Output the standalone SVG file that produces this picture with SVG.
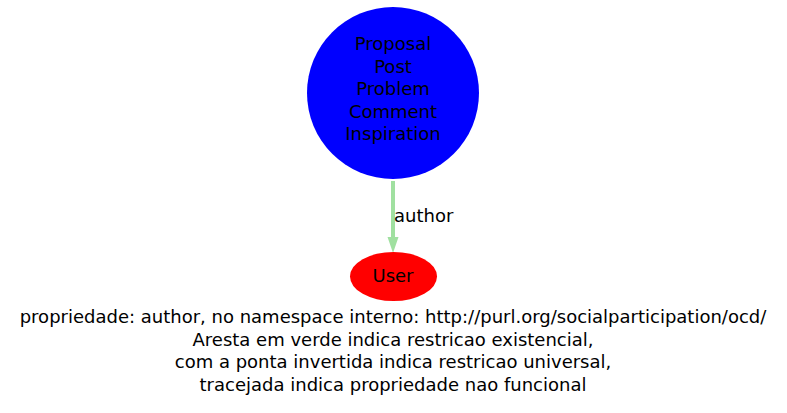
<svg xmlns="http://www.w3.org/2000/svg" width="787" height="413" viewBox="0 0 787 413">
<defs>
<style>
text{font-family:"DejaVu Sans",sans-serif;font-size:18px;fill:#000;text-anchor:middle}
.edge{stroke:#a0e0a0;stroke-width:4;fill:none}
</style>
</defs>
<rect width="787" height="413" fill="#fff"/>
<g id="connectors">
<line class="edge" x1="393" y1="181" x2="393" y2="238"/>
<path d="M387.5,237 L393,253 L398.5,237 Z" fill="#a0e0a0"/>
<text x="394" y="222" style="text-anchor:start">author</text>
</g>
<g id="node-proposal">
<circle cx="393" cy="93" r="86" fill="#0000ff"/>
<text x="393" y="50">Proposal</text>
<text x="393" y="73">Post</text>
<text x="393" y="95">Problem</text>
<text x="393" y="118">Comment</text>
<text x="393" y="140">Inspiration</text>
</g>
<g id="node-user">
<ellipse cx="393.5" cy="276.5" rx="43.5" ry="24.5" fill="#ff0000"/>
<text x="393" y="282">User</text>
</g>
<g id="caption">
<text x="393" y="323">propriedade: author, no namespace interno: http://purl.org/socialparticipation/ocd/</text>
<text x="393" y="346">Aresta em verde indica restricao existencial,</text>
<text x="393" y="368">com a ponta invertida indica restricao universal,</text>
<text x="393" y="391">tracejada indica propriedade nao funcional</text>
</g>
</svg>
